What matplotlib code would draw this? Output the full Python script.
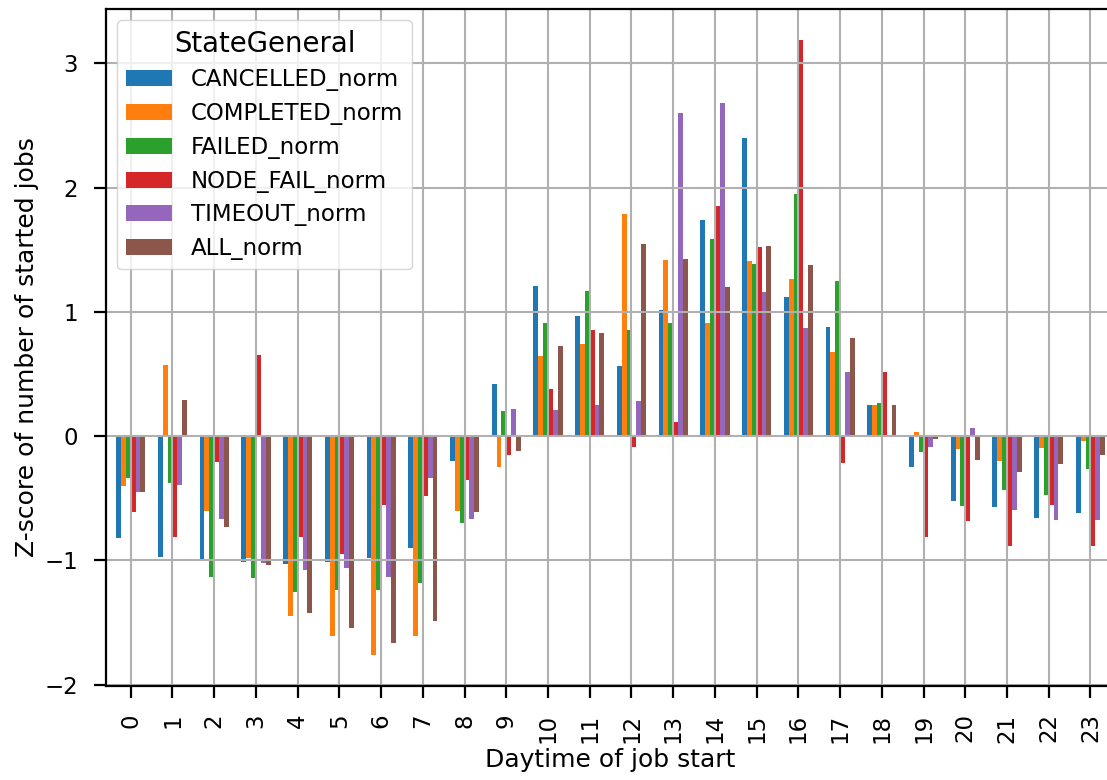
import matplotlib
matplotlib.use("Agg")
import matplotlib.pyplot as plt
import pandas as pd

hours = list(range(24))

cancelled = [-0.82, -0.97, -0.99, -1.016, -1.03, -1.01, -0.98, -0.90, -0.20, 0.42,
             1.21, 0.967, 0.567, 1.015, 1.74, 2.40, 1.12, 0.876, 0.25, -0.25,
             -0.52, -0.57, -0.66, -0.62]
completed = [-0.40, 0.576, -0.60, -0.98, -1.45, -1.61, -1.76, -1.61, -0.60, -0.25,
             0.645, 0.744, 1.789, 1.418, 0.913, 1.41, 1.265, 0.677, 0.25, 0.03,
             -0.10, -0.20, -0.095, -0.035]
failed = [-0.34, -0.378, -1.13, -1.14, -1.25, -1.24, -1.24, -1.18, -0.70, 0.206,
          0.91, 1.168, 0.851, 0.913, 1.585, 1.386, 1.947, 1.249, 0.271, -0.125,
          -0.565, -0.43, -0.475, -0.26]
node_fail = [-0.61, -0.815, -0.21, 0.65, -0.81, -0.95, -0.55, -0.48, -0.35, -0.15,
             0.38, 0.851, -0.086, 0.113, 1.853, 1.52, 3.19, -0.215, 0.516, -0.815,
             -0.685, -0.885, -0.55, -0.885]
timeout = [-0.45, -0.39, -0.665, -1.02, -1.08, -1.06, -1.13, -0.34, -0.67, 0.22,
           0.207, 0.25, 0.287, 2.603, 2.68, 1.163, 0.868, 0.516, 0.01, -0.09,
           0.065, -0.59, -0.675, -0.675]
all_jobs = [-0.445, 0.29, -0.73, -1.04, -1.42, -1.54, -1.66, -1.485, -0.61, -0.118,
            0.728, 0.827, 1.544, 1.424, 1.198, 1.528, 1.378, 0.79, 0.252, -0.02,
            -0.195, -0.29, -0.225, -0.15]

series_names = ["CANCELLED_norm", "COMPLETED_norm", "FAILED_norm",
                "NODE_FAIL_norm", "TIMEOUT_norm", "ALL_norm"]

df = pd.DataFrame(dict(zip(series_names,
                           [cancelled, completed, failed, node_fail, timeout, all_jobs])),
                  index=hours)

plt.rcParams.update({
    "font.family": "DejaVu Sans",
    "axes.linewidth": 1.6,
    "xtick.major.size": 8.5,
    "ytick.major.size": 8.5,
    "xtick.major.width": 1.6,
    "ytick.major.width": 1.6,
    "xtick.major.pad": 11.5,
    "ytick.major.pad": 11.5,
    "xtick.labelsize": 16.5,
    "ytick.labelsize": 16.5,
    "axes.labelsize": 18,
    "grid.color": "#b0b0b0",
    "grid.linewidth": 1.5,
})

fig = plt.figure(figsize=(11.07, 7.8), dpi=100)
ax = fig.add_axes([0.0955, 0.1209, 0.9122, 0.8676])

df.plot(kind="bar", width=0.7, ax=ax, rot=90, legend=False)
ax.grid(True)
ax.set_xlim(-0.6, 23.6)
ax.set_xlabel("Daytime of job start")
ax.set_ylabel("Z-score of number of started jobs")
ax.legend(title="StateGeneral", loc="upper left", fontsize=16.5,
          title_fontsize=19.8, labelspacing=0.47)

fig.savefig("out.png", dpi=100)
